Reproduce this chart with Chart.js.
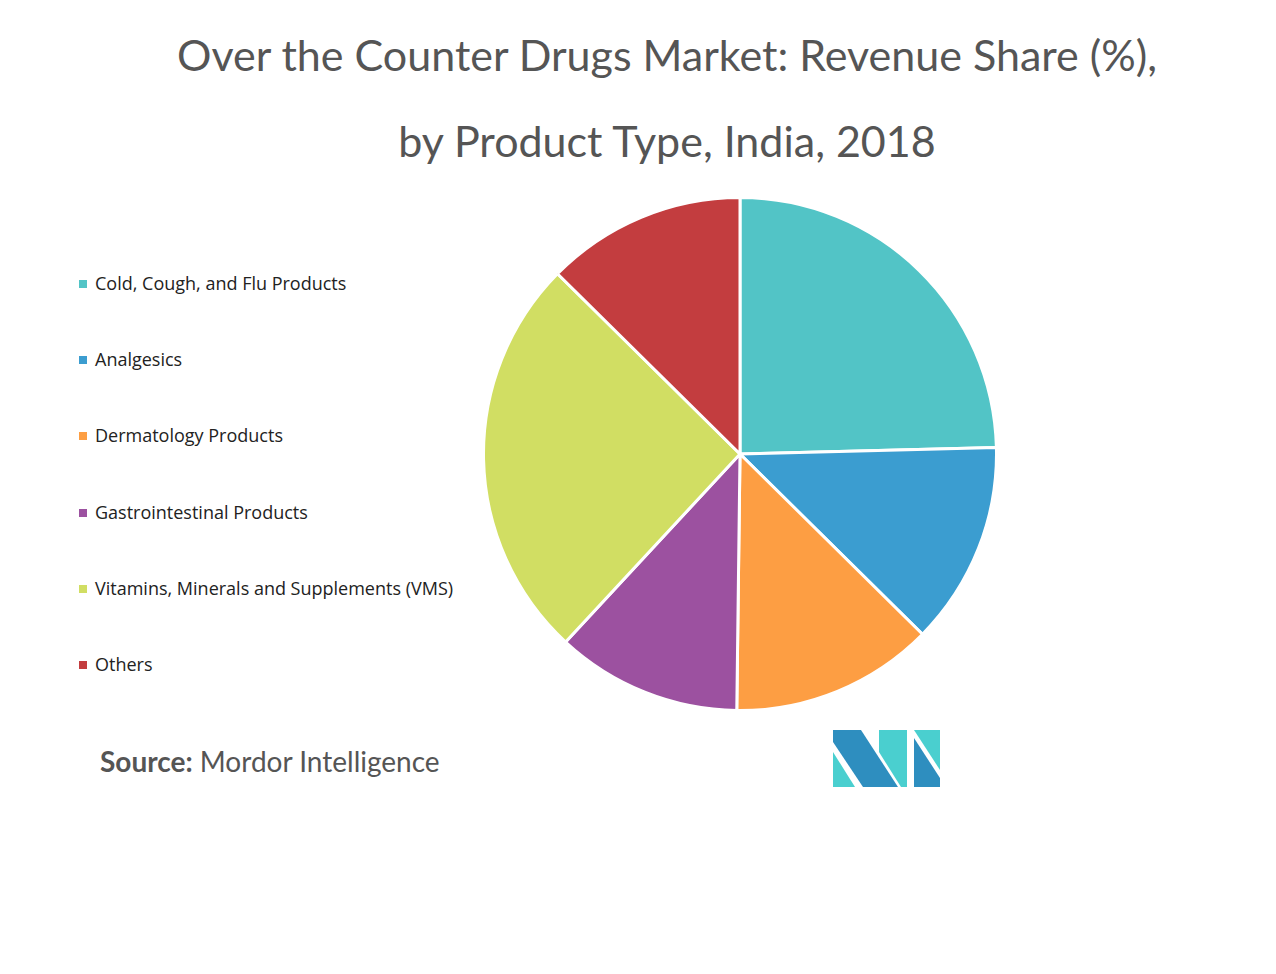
<!DOCTYPE html>
<html>
<head>
<meta charset="utf-8">
<script src="https://cdn.jsdelivr.net/npm/chart.js@4.4.0/dist/chart.umd.min.js"></script>
<style>
  body { margin: 0; background: #fff; width: 1276px; height: 974px; position: relative; overflow: hidden; }
  #title { position: absolute; left: 0; width: 1334px; top: 12px; text-align: center;
           font-family: Lato, sans-serif; font-size: 43px; color: #555; line-height: 86px; }
  #legend { position: absolute; left: 79px; top: 271px; font-family: "Open Sans", sans-serif; font-size: 18px; color: #222; }
  .item { height: 76.2px; display: flex; align-items: flex-start; }
  .box { width: 8px; height: 8px; margin-top: 9px; margin-right: 8px; }
  #source { position: absolute; left: 100px; top: 744px; font-family: Lato, sans-serif; font-size: 28px; color: #555; }
  #wrap { position: absolute; left: 482px; top: 196px; width: 516px; height: 516px; }
  #logo { position: absolute; left: 833px; top: 730px; }
</style>
</head>
<body>
<div id="title">Over the Counter Drugs Market: Revenue Share (%),<br>by Product Type, India, 2018</div>
<div id="legend"></div>
<div id="source"><b>Source:</b> Mordor Intelligence</div>
<div id="wrap"><canvas id="pie"></canvas></div>
<svg id="logo" width="108" height="57" viewBox="0 0 108 57">
  <polygon points="0,0 28,0 65,57 30,57 0,12" fill="#2E8EBF"/>
  <polygon points="0,22 22,57 0,57" fill="#4ACFCF"/>
  <polygon points="46,0 74,0 74,57 68,57 46,22" fill="#4ACFCF"/>
  <polygon points="81,0 107,0 107,40" fill="#4ACFCF"/>
  <polygon points="81,8 107,48 107,57 81,57" fill="#2E8EBF"/>
</svg>
<script>
const categories = [
  "Cold, Cough, and Flu Products",
  "Analgesics",
  "Dermatology Products",
  "Gastrointestinal Products",
  "Vitamins, Minerals and Supplements (VMS)",
  "Others"
];
const shares = [24.6, 12.8, 12.8, 11.7, 25.5, 12.6];
const colors = ["#52C4C6", "#3B9DD0", "#FD9E43", "#9C51A0", "#D1DE63", "#C33D3F"];

const legend = document.getElementById("legend");
categories.forEach((name, i) => {
  const row = document.createElement("div");
  row.className = "item";
  row.innerHTML = `<span class="box" style="background:${colors[i]}"></span><span>${name}</span>`;
  legend.appendChild(row);
});

new Chart(document.getElementById("pie"), {
  type: "pie",
  data: {
    labels: categories,
    datasets: [{
      data: shares,
      backgroundColor: colors,
      borderColor: "#fff",
      borderWidth: 3
    }]
  },
  options: {
    responsive: true,
    maintainAspectRatio: false,
    animation: false,
    layout: { padding: 0 },
    plugins: {
      legend: { display: false },
      tooltip: { enabled: false }
    }
  }
});
</script>
</body>
</html>
